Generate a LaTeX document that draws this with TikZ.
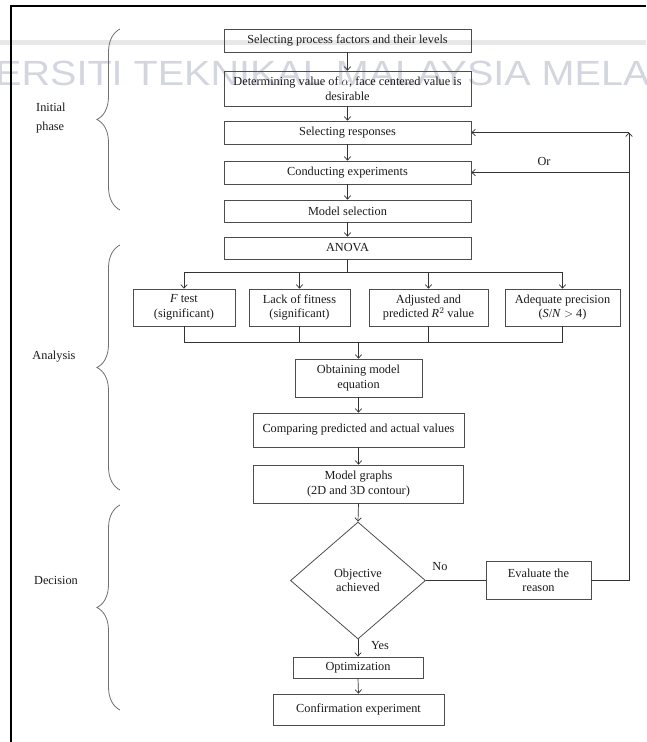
\documentclass[tikz,border=0pt]{standalone}
\usepackage{fontspec}
\setmainfont{Liberation Serif}
\newfontfamily\wmfont{Liberation Sans}
\usetikzlibrary{arrows.meta,shapes.geometric,decorations.pathreplacing,calc}
\definecolor{txt}{HTML}{1A1A1A}
\definecolor{boxgray}{HTML}{4D4D4D}
\definecolor{linegray}{HTML}{333333}
\definecolor{bracegray}{HTML}{707070}
\definecolor{wm}{HTML}{D3D6DF}
\definecolor{band}{HTML}{E8E8E8}
\newcommand\boxfont{\fontsize{12.3}{14.5}\selectfont}
\begin{document}
\begin{tikzpicture}[x=1pt,y=-1pt,
  box/.style={draw=boxgray, line width=0.8pt, rectangle, inner sep=1pt, align=center, font=\boxfont, text=txt},
  arr/.style={draw=linegray, line width=0.7pt, -{Straight Barb[length=3.5pt,width=6.5pt]}},
  ln/.style={draw=linegray, line width=0.7pt},
  lbl/.style={font=\boxfont, text=txt, inner sep=0pt},
  brc/.style={draw=bracegray, line width=0.8pt, decorate, decoration={brace, amplitude=23pt}}]
\useasboundingbox (0,0) rectangle (646,742);
% watermark
\fill[band] (0,40) rectangle (646,45);
\node[anchor=base west, inner sep=0pt, text=wm, font=\wmfont\fontsize{35}{35}\selectfont] (wmk) at (-5,85) {\scalebox{1.13}[1]{ERSITI TEKNIKAL MALAYSIA MELA}};
% frame
\draw[line width=2pt, black] (11,742) -- (11,6) -- (646,6);
% main column
\node[box, minimum width=247pt, minimum height=23pt] (b1) at (347.5,40.5) {Selecting process factors and their levels};
\node[box, minimum width=247pt, minimum height=35pt] (b2) at (347.5,88.5) {Determining value of $\alpha$, face centered value is\\desirable};
\node[box, minimum width=247pt, minimum height=23pt] (b3) at (347.5,132.5) {Selecting responses};
\node[box, minimum width=247pt, minimum height=23pt] (b4) at (347.5,172.5) {Conducting experiments};
\node[box, minimum width=247pt, minimum height=22pt] (b5) at (347.5,211) {Model selection};
\node[box, minimum width=247pt, minimum height=22pt] (anova) at (347.5,248) {ANOVA};
\node[box, minimum width=102pt, minimum height=37pt] (f1) at (184,307.5) {\textit{F} test\\(significant)};
\node[box, minimum width=101pt, minimum height=37pt] (f2) at (299.5,307.5) {Lack of fitness\\(significant)};
\node[box, minimum width=119pt, minimum height=37pt] (f3) at (428.5,307.5) {Adjusted and\\predicted \textit{R}$^2$ value};
\node[box, minimum width=115pt, minimum height=37pt] (f4) at (562.5,307.5) {Adequate precision\\(\textit{S}/\textit{N} $>$ 4)};
\node[box, minimum width=127pt, minimum height=38pt] (obt) at (358.5,378) {Obtaining model\\equation};
\node[box, minimum width=211pt, minimum height=34pt] (cmp) at (358.5,430) {Comparing predicted and actual values};
\node[box, minimum width=210pt, minimum height=38pt] (mg) at (358.5,484) {Model graphs\\(2D and 3D contour)};
\node[box, diamond, minimum width=135pt, minimum height=117pt, inner sep=0pt] (dia) at (358,580.5) {Objective\\achieved};
\node[box, minimum width=105pt, minimum height=38pt] (ev) at (538.5,580.5) {Evaluate the\\reason};
\node[box, minimum width=130pt, minimum height=21pt] (opt) at (358,667.5) {Optimization};
\node[box, minimum width=171pt, minimum height=31pt] (conf) at (358.5,709.5) {Confirmation experiment};
% labels
\node[lbl] (no) at (440,567) {No};
\node[lbl] (yes) at (380,646) {Yes};
\node[lbl] (or) at (544,161) {Or};
\node[lbl, align=left, anchor=west] (ini) at (36,118.5) {Initial\\[4.5pt]phase};
\node[lbl] (ana) at (54,357) {Analysis};
\node[lbl] (dec) at (56,580) {Decision};
% braces
\draw[brc] (120,210) -- (120,29);
\draw[brc] (120,490) -- (120,245);
\draw[brc] (120,710) -- (120,505);
% connectors
\draw[arr] (b1.south) -- (b2.north);
\draw[arr] (b2.south) -- (b3.north);
\draw[arr] (b3.south) -- (b4.north);
\draw[arr] (b4.south) -- (b5.north);
\draw[arr] (b5.south) -- (anova.north);
\coordinate (bt) at (347.5,272);
\draw[ln] (anova.south) -- (bt);
\draw[ln] (f1.north |- bt) -- (f4.north |- bt);
\foreach \n in {f1,f2,f3,f4} {\draw[arr] (\n.north |- bt) -- (\n.north);}
\coordinate (bb) at (358.5,342);
\foreach \n in {f1,f2,f3,f4} {\draw[ln] (\n.south) -- (\n.south |- bb);}
\draw[ln] (f1.south |- bb) -- (f4.south |- bb);
\draw[arr] (bb) -- (obt.north);
\draw[arr] (obt.south) -- (cmp.north);
\draw[arr] (cmp.south) -- (mg.north);
\draw[arr] (mg.south) -- (dia.north);
\draw[ln] (dia.east) -- (ev.west);
\draw[arr] (dia.south) -- (opt.north);
\draw[arr] (opt.south) -- (conf.north);
\coordinate (fbtop) at (629,132.5);
\draw[arr] (ev.east) -- (ev.east -| fbtop) -- (fbtop);
\draw[arr] (fbtop) -- (b3.east);
\draw[arr] (fbtop |- b4.east) -- (b4.east);
\end{tikzpicture}
\end{document}
